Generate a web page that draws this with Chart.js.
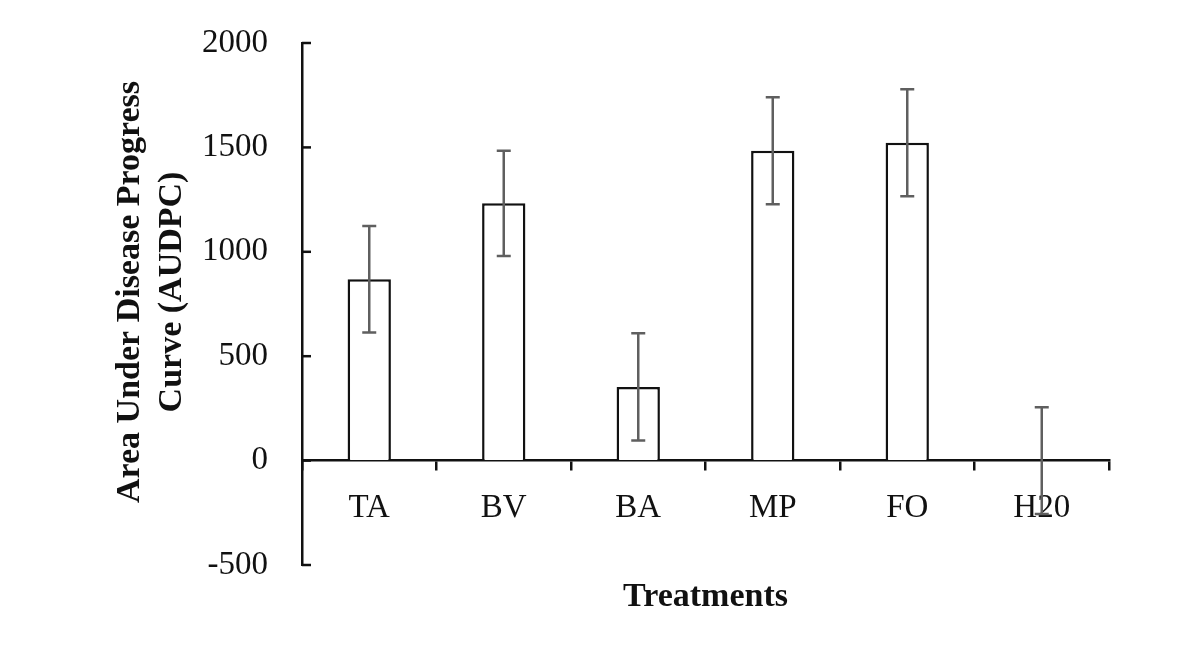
<!DOCTYPE html>
<html>
<head>
<meta charset="utf-8">
<script src="https://cdn.jsdelivr.net/npm/chart.js@4.4.1/dist/chart.umd.min.js"></script>
<style>
  html, body { margin: 0; padding: 0; background: #fff; }
  #wrap { width: 1201px; height: 651px; }
</style>
</head>
<body>
<div id="wrap"><canvas id="chart"></canvas></div>
<script>
// values
var treatments = ['TA', 'BV', 'BA', 'MP', 'FO', 'H20'];
var audpc = [868, 1232, 353, 1484, 1522, 0];
var stdErr = [255, 252, 257, 256, 256, 256];
var yTicks = [-500, 0, 500, 1000, 1500, 2000];
var yTitle = ['Area Under Disease Progress', 'Curve (AUDPC)'];

var serif = '"Liberation Serif", "Times New Roman", serif';

// error bars, inward y tick marks and the y title, drawn last so they sit on top
var extras = {
  id: 'extras',
  afterDraw: function(chart) {
    var ctx = chart.ctx;
    var y = chart.scales.y;
    var meta = chart.getDatasetMeta(0);
    ctx.save();

    ctx.strokeStyle = '#5f5f5f';
    ctx.lineWidth = 2.5;
    meta.data.forEach(function(bar, i) {
      var top = y.getPixelForValue(audpc[i] + stdErr[i]);
      var bottom = y.getPixelForValue(audpc[i] - stdErr[i]);
      ctx.beginPath();
      ctx.moveTo(bar.x, top);
      ctx.lineTo(bar.x, bottom);
      ctx.moveTo(bar.x - 7, top);
      ctx.lineTo(bar.x + 7, top);
      ctx.moveTo(bar.x - 7, bottom);
      ctx.lineTo(bar.x + 7, bottom);
      ctx.stroke();
    });

    ctx.strokeStyle = '#111';
    ctx.lineWidth = 2.5;
    var left = chart.chartArea.left;
    yTicks.forEach(function(v) {
      var py = y.getPixelForValue(v);
      ctx.beginPath();
      ctx.moveTo(left, py);
      ctx.lineTo(left + 9, py);
      ctx.stroke();
    });

    // y axis title, sits a little above the plot's middle like the original
    ctx.fillStyle = '#111';
    ctx.font = 'bold 34px ' + serif;
    ctx.textAlign = 'center';
    ctx.textBaseline = 'middle';
    ctx.translate(130, 292);
    ctx.rotate(-Math.PI / 2);
    yTitle.forEach(function(line, i) {
      ctx.fillText(line, 0, i * 42);
    });
    ctx.restore();
  }
};

new Chart(document.getElementById('chart'), {
  type: 'bar',
  data: {
    labels: treatments,
    datasets: [{
      data: audpc,
      backgroundColor: '#ffffff',
      borderColor: '#111111',
      borderWidth: 2.5,
      categoryPercentage: 1,
      barPercentage: 0.322
    }]
  },
  options: {
    responsive: true,
    maintainAspectRatio: false,
    animation: false,
    layout: { padding: { left: 0, right: 92, top: 43, bottom: 86 } },
    plugins: { legend: { display: false }, tooltip: { enabled: false } },
    scales: {
      x: {
        position: { y: 0 },
        z: 1,
        grid: { drawOnChartArea: false, drawTicks: true, tickLength: 9, color: '#111', lineWidth: 2.5, offset: true },
        border: { color: '#111', width: 2.5 },
        ticks: { color: '#111', padding: 19, font: { family: serif, size: 33 } },
        title: {
          display: true,
          text: 'Treatments',
          color: '#111',
          padding: { top: 30, bottom: 0 },
          font: { family: serif, size: 34, weight: 'bold' }
        }
      },
      y: {
        min: -500,
        max: 2000,
        afterFit: function(scale) { scale.width = 302; },
        afterBuildTicks: function(scale) {
          scale.ticks = yTicks.map(function(v) { return { value: v }; });
        },
        // outward ticks kept invisible: the visible ticks point inward (plugin)
        grid: { drawOnChartArea: false, drawTicks: true, tickLength: 11, color: 'rgba(0,0,0,0)' },
        border: { color: '#111', width: 2.5 },
        ticks: {
          color: '#111',
          padding: 23,
          font: { family: serif, size: 33 },
          callback: function(value) { return String(value); }
        }
      }
    }
  },
  plugins: [extras]
});
</script>
</body>
</html>
